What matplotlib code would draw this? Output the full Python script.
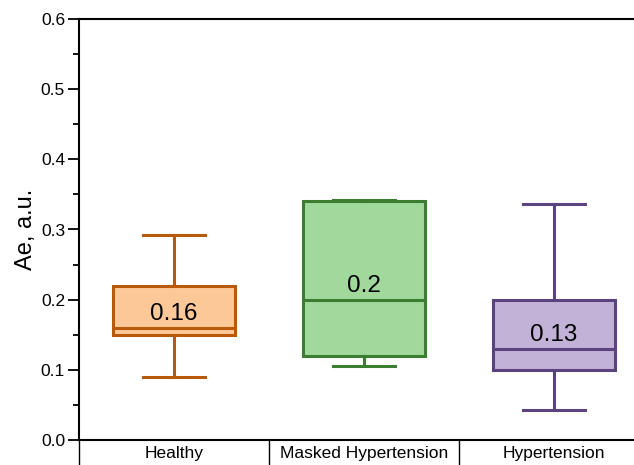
import numpy as np
import matplotlib.pyplot as plt

groups = ["Healthy", "Masked Hypertension", "Hypertension"]
whisker_low = [0.09, 0.105, 0.043]
q1 = [0.15, 0.12, 0.10]
median = [0.16, 0.20, 0.13]
q3 = [0.22, 0.34, 0.20]
whisker_high = [0.292, 0.342, 0.336]

edge_colors = ["#B85A0A", "#3B7D31", "#5B4380"]
fill_colors = ["#FCC898", "#A0D99B", "#C3B2D8"]

plt.rcParams["font.family"] = ["Arial", "Liberation Sans", "DejaVu Sans"]

fig = plt.figure(figsize=(6.34, 4.65), dpi=100)
ax = fig.add_axes([79 / 634, 25 / 465, 570 / 634, 421 / 465])

stats = []
for i, g in enumerate(groups):
    stats.append({"label": g, "whislo": whisker_low[i], "q1": q1[i], "med": median[i],
                  "q3": q3[i], "whishi": whisker_high[i], "fliers": []})

pos = np.arange(len(groups))
bp = ax.bxp(stats, positions=pos, widths=0.64, patch_artist=True, showfliers=False,
            manage_ticks=False)
for i in range(len(groups)):
    bp["boxes"][i].set(facecolor=fill_colors[i], edgecolor=edge_colors[i], linewidth=2.2)
    bp["medians"][i].set(color=edge_colors[i], linewidth=2.2)
    for w in bp["whiskers"][2 * i:2 * i + 2]:
        w.set(color=edge_colors[i], linewidth=2.2)
    for c in bp["caps"][2 * i:2 * i + 2]:
        c.set(color=edge_colors[i], linewidth=2.2, xdata=[pos[i] - 0.165, pos[i] + 0.165])
    ax.text(pos[i], median[i] + 0.02, f"{median[i]:g}", ha="center", va="center", fontsize=17.5)

ax.set_xlim(-0.5, 2.5)
ax.set_ylim(0, 0.6)
ax.set_yticks(np.arange(0, 0.61, 0.1))
ax.set_yticks(np.arange(0.05, 0.6, 0.1), minor=True)
ax.yaxis.set_major_formatter(plt.FormatStrFormatter("%.1f"))
ax.tick_params(axis="y", which="major", length=8, width=1.3, labelsize=12.5, pad=2)
ax.tick_params(axis="y", which="minor", length=4, width=1.3)

# group separators drawn as long ticks, names at the group centres
ax.set_xticks([-0.5, 0.5, 1.5, 2.5])
ax.set_xticklabels([])
ax.set_xticks(pos, minor=True)
ax.set_xticklabels(groups, minor=True)
ax.tick_params(axis="x", which="major", length=19, width=1.0)
ax.tick_params(axis="x", which="minor", length=0, pad=4, labelsize=12.5)

for s in ax.spines.values():
    s.set_linewidth(1.5)
ax.spines["right"].set_visible(False)

ax.set_ylabel("Ae, a.u.", fontsize=17, labelpad=3)

fig.savefig("out.png", dpi=100)
